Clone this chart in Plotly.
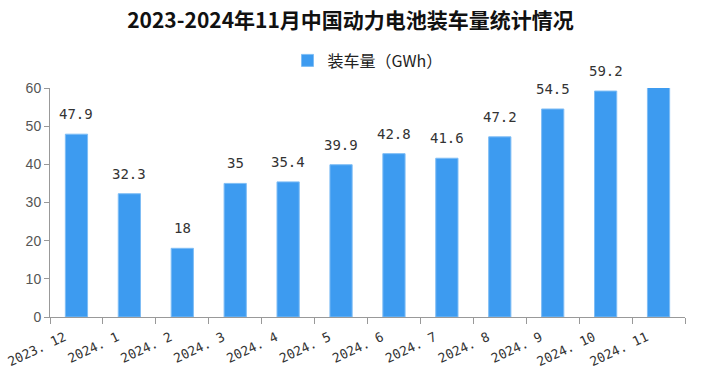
import plotly.graph_objects as go

categories = ["2023. 12", "2024. 1", "2024. 2", "2024. 3", "2024. 4", "2024. 5",
              "2024. 6", "2024. 7", "2024. 8", "2024. 9", "2024. 10", "2024. 11"]
values = [47.9, 32.3, 18, 35, 35.4, 39.9, 42.8, 41.6, 47.2, 54.5, 59.2, 64.6]
labels = ["47.9", "32.3", "18", "35", "35.4", "39.9", "42.8", "41.6", "47.2", "54.5", "59.2", ""]

fig = go.Figure()
fig.add_trace(go.Bar(
    x=categories, y=values, name="装车量（GWh）",
    marker=dict(color="#3d9bf0", line=dict(color="#7fbdf5", width=1)),
    width=0.42, cliponaxis=True,
))

for c, v, t in zip(categories, values, labels):
    if t:
        fig.add_annotation(x=c, y=v, text=t, showarrow=False, yanchor="bottom",
                           yshift=10,
                           font=dict(family="DejaVu Sans Mono, monospace", size=14, color="#333333"))

fig.update_layout(
    width=701, height=369,
    paper_bgcolor="white", plot_bgcolor="white",
    margin=dict(l=50, r=16, t=88, b=52, autoexpand=False),
    title=dict(text="<b>2023-2024年11月中国动力电池装车量统计情况</b>",
               x=0.5, xanchor="center", y=0.945, yanchor="middle",
               font=dict(family="Noto Sans CJK SC", size=21, color="#111111")),
    showlegend=True,
    legend=dict(orientation="h", x=0.5, xanchor="center", y=1.12, yanchor="middle",
                itemwidth=30,
                font=dict(family="Noto Sans CJK SC", size=16, color="#222222")),
    bargap=0.58,
)
fig.update_xaxes(
    type="category", tickson="boundaries", ticks="outside", ticklen=6,
    tickcolor="#999999", showline=True, linecolor="#999999", linewidth=1,
    tickangle=-25, automargin=False, ticklabelstandoff=7, ticklabelshift=-12,
    tickfont=dict(family="DejaVu Sans Mono, monospace", size=13, color="#333333"),
    showgrid=False,
)
fig.update_yaxes(
    range=[0, 60], tickvals=[0, 10, 20, 30, 40, 50, 60], ticks="outside", ticklen=5,
    tickcolor="#999999", showline=True, linecolor="#999999", linewidth=1,
    showgrid=False, zeroline=False, automargin=False,
    tickfont=dict(family="Liberation Sans, Arial", size=14, color="#555555"),
)

fig.write_html("out.html", config={"displayModeBar": False},
               post_script="document.body.style.margin='0';")
